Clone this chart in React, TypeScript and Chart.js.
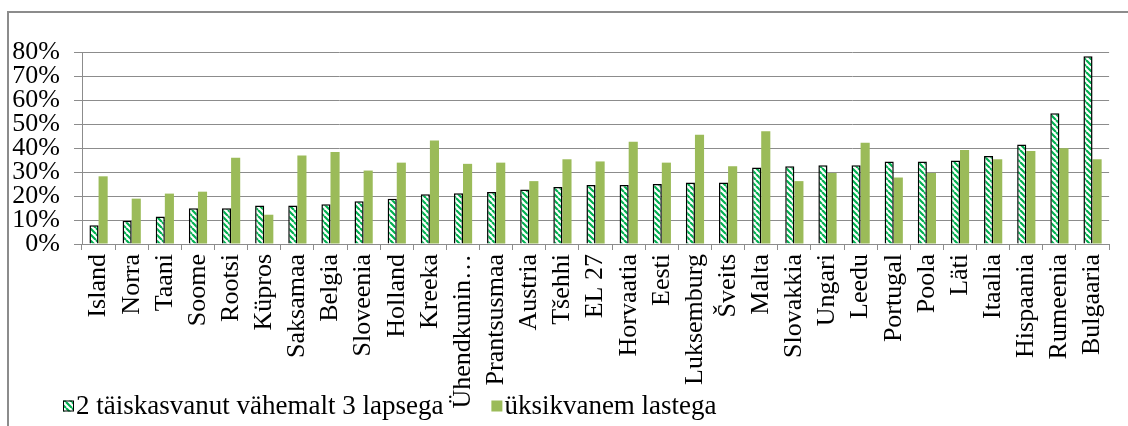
import React, { useEffect, useRef } from "react";
import { Chart, registerables } from "chart.js";

Chart.register(...registerables);

const categories = [
  "Island", "Norra", "Taani", "Soome", "Rootsi", "Küpros", "Saksamaa", "Belgia",
  "Sloveenia", "Holland", "Kreeka", "Ühendkuningriik", "Prantsusmaa", "Austria",
  "Tšehhi", "EL 27", "Horvaatia", "Eesti", "Luksemburg", "Šveits", "Malta",
  "Slovakkia", "Ungari", "Leedu", "Portugal", "Poola", "Läti", "Itaalia",
  "Hispaania", "Rumeenia", "Bulgaaria",
];

const twoAdultsThreeKids = [
  7.8, 9.7, 11.5, 14.9, 14.9, 16.0, 16.0, 16.6, 17.8, 18.9, 20.7, 21.1, 21.7, 22.7,
  23.7, 24.6, 24.6, 25.0, 25.6, 25.6, 31.9, 32.4, 32.8, 32.8, 34.4, 34.4, 34.8,
  36.7, 41.5, 54.5, 78.2,
];

const singleParent = [
  28.2, 18.9, 21.0, 21.8, 35.9, 12.2, 36.9, 38.3, 30.6, 33.9, 43.1, 33.4, 33.9, 26.2,
  35.3, 34.4, 42.6, 33.9, 45.5, 32.4, 47.0, 26.2, 29.6, 42.2, 27.7, 29.6, 39.2,
  35.3, 38.8, 39.9, 35.3,
];

const seriesNames = ["2 täiskasvanut vähemalt 3 lapsega", "üksikvanem lastega"];

const yMin = 0;
const yMax = 80;
const yStep = 10;

const FONT = "'Liberation Serif', 'Times New Roman', serif";

function makeHatch(): CanvasPattern | string {
  const c = document.createElement("canvas");
  const s = 6;
  c.width = s;
  c.height = s;
  const ctx = c.getContext("2d");
  if (!ctx) return "#00B050";
  ctx.fillStyle = "#ffffff";
  ctx.fillRect(0, 0, s, s);
  ctx.strokeStyle = "#00B050";
  ctx.lineWidth = 2.2;
  ctx.beginPath();
  for (const k of [-s, 0, s]) {
    ctx.moveTo(k, 0);
    ctx.lineTo(k + s, s);
  }
  ctx.stroke();
  return ctx.createPattern(c, "repeat") || "#00B050";
}

export default function App() {
  const ref = useRef<HTMLCanvasElement>(null);

  useEffect(() => {
    const canvas = ref.current;
    if (!canvas) return;
    const hatch = makeHatch();

    const framePlugin = {
      id: "frame",
      beforeDraw(chart: any) {
        const ctx = chart.ctx;
        ctx.save();
        ctx.fillStyle = "#ffffff";
        ctx.fillRect(0, 0, chart.width, chart.height);
        ctx.strokeStyle = "#8c8c8c";
        ctx.lineWidth = 2;
        ctx.strokeRect(8, 12, 1400, 800);
        ctx.restore();
      },
    };

    const legendPlugin = {
      id: "bottomLegend",
      afterDraw(chart: any) {
        const ctx = chart.ctx;
        ctx.save();
        ctx.font = `27px ${FONT}`;
        ctx.textBaseline = "middle";
        ctx.textAlign = "left";
        let x = 63;
        const y = 406;
        const box = 11;
        chart.data.datasets.forEach((ds: any) => {
          ctx.fillStyle = ds.backgroundColor;
          ctx.fillRect(x, y - box / 2, box, box);
          if (ds.borderWidth) {
            ctx.strokeStyle = ds.borderColor;
            ctx.lineWidth = 1;
            ctx.strokeRect(x + 0.5, y - box / 2 + 0.5, box - 1, box - 1);
          }
          ctx.fillStyle = "#000000";
          const tx = x + box + 2;
          ctx.fillText(ds.label, tx, y + 1);
          x = tx + ctx.measureText(ds.label).width + 48;
        });
        ctx.restore();
      },
    };

    const chart = new Chart(canvas, {
      type: "bar",
      data: {
        labels: categories,
        datasets: [
          {
            label: seriesNames[0],
            data: twoAdultsThreeKids,
            backgroundColor: hatch as any,
            borderColor: "#000000",
            borderWidth: 1.5,
            categoryPercentage: 0.55,
            barPercentage: 1,
          },
          {
            label: seriesNames[1],
            data: singleParent,
            backgroundColor: "#9BBB59",
            borderWidth: 0,
            categoryPercentage: 0.55,
            barPercentage: 1,
          },
        ],
      },
      options: {
        responsive: false,
        animation: false,
        layout: { padding: { left: 0, right: 16, top: 52, bottom: 0 } },
        plugins: {
          tooltip: { enabled: false },
          legend: { display: false },
        },
        scales: {
          x: {
            grid: {
              drawOnChartArea: false,
              drawTicks: true,
              tickLength: 6,
              color: "#8c8c8c",
              offset: true,
            },
            border: { color: "#8c8c8c" },
            ticks: {
              autoSkip: false,
              maxRotation: 90,
              minRotation: 90,
              padding: 4,
              color: "#000000",
              font: { family: FONT, size: 26 },
              callback: (_v: any, i: number) => {
                const l = categories[i];
                return l.length > 12 ? l.slice(0, 10) + "…" : l;
              },
            },
            afterFit: (s: any) => {
              s.height = 182;
            },
          },
          y: {
            min: yMin,
            max: yMax,
            ticks: {
              stepSize: yStep,
              autoSkip: false,
              padding: 14,
              color: "#000000",
              font: { family: FONT, size: 26 },
              callback: (v: any) => v + "%",
            },
            grid: { color: "#8c8c8c", tickLength: 8 },
            border: { color: "#8c8c8c" },
            afterFit: (s: any) => {
              s.width = 82;
            },
          },
        },
      },
      plugins: [framePlugin, legendPlugin],
    });

    return () => chart.destroy();
  }, []);

  return (
    <div style={{ position: "fixed", left: 0, top: 0, width: 1128, height: 426, background: "#fff" }}>
      <canvas ref={ref} width={1128} height={426} style={{ display: "block" }} />
    </div>
  );
}
